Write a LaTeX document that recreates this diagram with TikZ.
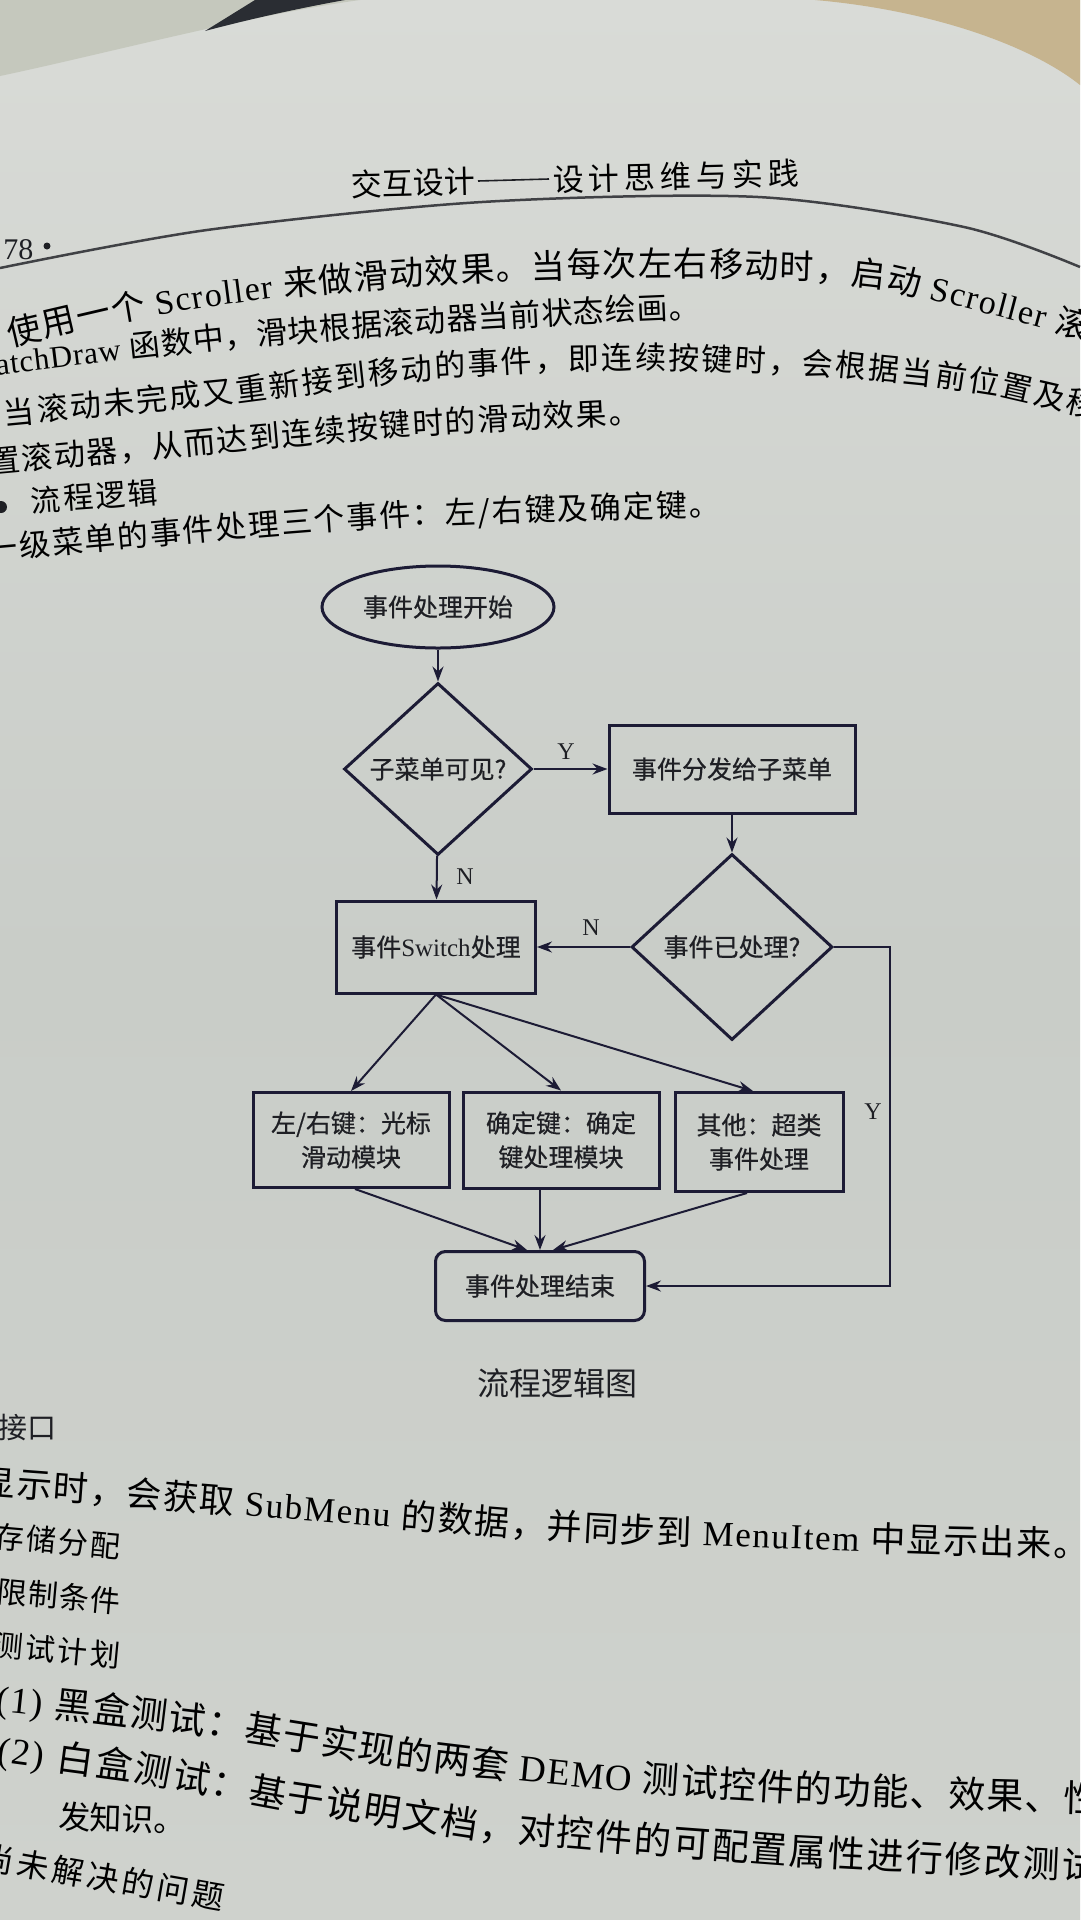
\documentclass[tikz,border=0pt]{standalone}
\usepackage{fontspec}
\setmainfont{Liberation Serif}
\newfontfamily\cjk{Noto Sans CJK SC}
\newfontfamily\cjkd[FakeBold=0.5]{Noto Sans CJK SC}
\newfontfamily\lat{Liberation Serif}
\usetikzlibrary{shapes.geometric,arrows.meta,calc,decorations.text}
\protected\def\zhf#1{\cjk\fontsize{#1}{#1}\selectfont}
\protected\def\enf#1{\lat\fontsize{#1}{#1}\selectfont}
\definecolor{ink}{HTML}{1E1F24}
\definecolor{dline}{HTML}{1C1B35}
\definecolor{pgtop}{HTML}{D9DBD7}
\definecolor{pgmid}{HTML}{C9CDC8}
\definecolor{pgbot}{HTML}{CFD2CD}
\definecolor{bgl}{HTML}{C5C8BD}
\definecolor{dark}{HTML}{2A2D33}
\definecolor{wood}{HTML}{C6B48F}
\tikzset{
  ptxt/.style={decorate,decoration={text along path,text align={fit to path},text={#1}}},
  lbl/.style={font=\cjkd\fontsize{25}{34}\selectfont, text=ink},
  bx/.style={draw=dline, line width=3pt, rectangle, inner sep=0pt, align=center, lbl},
  dmd/.style={draw=dline, line width=3pt, diamond, inner sep=0pt, lbl},
  ell/.style={draw=dline, line width=3pt, ellipse, inner sep=0pt, lbl},
  arr/.style={draw=dline, line width=2pt, -{Stealth[length=15pt,width=11pt,inset=5pt]}},
  yn/.style={font=\lat\fontsize{24}{24}\selectfont, text=ink},
}
\begin{document}
\begin{tikzpicture}[x=1pt,y=-1pt,color=ink]
\useasboundingbox (0,0) rectangle (1080,1920);
% page and surroundings
\shade[top color=pgtop, bottom color=pgbot, middle color=pgmid] (0,0) rectangle (1080,1920);
\fill[bgl] (0,0) -- (360,0) .. controls (250,15) and (100,55) .. (0,76) -- cycle;
\fill[dark] (205,31) -- (255,0) -- (345,0) .. controls (300,8) and (250,19) .. (205,31) -- cycle;
\fill[wood] (815,0) .. controls (930,10) and (1030,45) .. (1080,85) -- (1080,0) -- cycle;

% header
\path[ptxt={|\zhf{31}|交互设计}] (351,196) -- (475,193);
\draw[line width=1.6pt] (478,181) -- (549,179);
\path[ptxt={|\zhf{31}|设计思维与实践}] (553,191) -- (799,185);
\draw[line width=2.5pt, color=ink!85] plot[smooth] coordinates {(0,268) (207,230) (482,202) (758,197) (964,227) (1080,267)};
\node[anchor=east, font=\enf{30}] (pgno) at (37,250) {78};
\fill (47,246) circle (3.5);

% upper body text
\path[ptxt={|\zhf{34}|使用一个 |\enf{34}|Scroller|\zhf{34}| 来做滑动效果。当每次左右移动时，启动 |\enf{34}|Scroller|\zhf{34}| 滚动}] (10,346) -- (100,325) -- (200,308) -- (300,295) -- (400,286) -- (500,280) -- (600,277) -- (700,276) -- (800,279) -- (880,288) -- (950,304) -- (1030,325) -- (1120,350);
\path[ptxt={|\enf{31}|atchDraw |\zhf{31}|函数中，滑块根据滚动器当前状态绘画。}] (-3,375) -- (120,360) -- (230,348) -- (350,338) -- (460,330) -- (580,323) -- (700,318);
\path[ptxt={|\zhf{31}|当滚动未完成又重新接到移动的事件，即连续按键时，会根据当前位置及移}] (5,425) -- (130,413) -- (250,401) -- (350,388) -- (450,377) -- (550,371) -- (650,369) -- (750,371) -- (850,377) -- (930,385) -- (1000,396) -- (1095,418);
\path[ptxt={|\zhf{31}|置滚动器，从而达到连续按键时的滑动效果。}] (-10,473) -- (100,463) -- (200,454) -- (300,445) -- (400,436) -- (520,429) -- (640,423);
\fill (1,507) circle (6);
\path[ptxt={|\zhf{30}|流程逻辑}] (32,512) -- (158,503);
\path[ptxt={|\zhf{31}|一级菜单的事件处理三个事件：左/右键及确定键。}] (-12,560) -- (100,550) -- (200,541) -- (300,533) -- (400,526) -- (560,520) -- (720,516);

% flowchart
\node[ell, minimum width=232pt, minimum height=82pt] (st) at (438,607) {事件处理开始};
\node[dmd, minimum width=188pt, minimum height=172pt] (d1) at (438,769) {子菜单可见?};
\node[bx, minimum width=246pt, minimum height=88pt] (b1) at (732,769) {事件分发给子菜单};
\node[dmd, minimum width=201pt, minimum height=186pt] (d2) at (732,947) {事件已处理?};
\node[bx, minimum width=199pt, minimum height=92pt] (sw) at (436,947) {事件{\lat Switch}处理};
\node[bx, minimum width=196pt, minimum height=95pt] (ka) at (351,1140) {左/右键：光标\\滑动模块};
\node[bx, minimum width=196pt, minimum height=96pt] (kb) at (561,1140) {确定键：确定\\键处理模块};
\node[bx, minimum width=168pt, minimum height=99pt] (kc) at (759,1142) {其他：超类\\事件处理};
\node[bx, rounded corners=10pt, minimum width=209pt, minimum height=69pt] (en) at (540,1286) {事件处理结束};

\draw[arr] (st) -- (d1);
\draw[arr] (d1) -- (b1);
\draw[arr] (b1) -- (d2);
\draw[arr] (d1) -- (sw);
\draw[arr] (d2) -- (sw);
\coordinate (yc) at (890,947);
\draw[arr] (d2.east) -- (yc) |- (en.east);
\draw[arr] (sw.south) -- (ka.north);
\draw[arr] (sw.south) -- (kb.north);
\draw[arr] (sw.south) -- ($(kc.north)+(-6,0)$);
\draw[arr] ($(ka.south)+(4,0)$) -- ($(en.north)+(-13,0)$);
\draw[arr] (kb.south -| en.north) -- (en.north);
\draw[arr] ($(kc.south)+(-12,0)$) -- ($(en.north)+(13,0)$);

\node[yn] (ly1) at (566,752) {Y};
\node[yn] (ln1) at (465,877) {N};
\node[yn] (ln2) at (591,928) {N};
\node[yn] (ly2) at (873,1112) {Y};

\node[font=\zhf{32}] (cap) at (557,1383) {流程逻辑图};

% lower body text
\node[anchor=west, font=\zhf{29}] (jk) at (-5,1428) {接口};
\path[ptxt={|\zhf{35}|显示时，会获取 |\enf{35}|SubMenu|\zhf{35}| 的数据，并同步到 |\enf{35}|MenuItem|\zhf{35}| 中显示出来。}] (-20,1494) -- (100,1503) -- (200,1512) -- (350,1524) -- (500,1536) -- (650,1544) -- (800,1549) -- (950,1554) -- (1088,1557);
\path[ptxt={|\zhf{30}|存储分配}] (-6,1547) -- (119,1558);
\path[ptxt={|\zhf{30}|限制条件}] (-4,1602) -- (119,1613);
\path[ptxt={|\zhf{30}|测试计划}] (-8,1655) -- (119,1667);
\path[ptxt={|\enf{37}|(1) |\zhf{37}|黑盒测试：基于实现的两套 |\enf{37}|DEMO|\zhf{37}| 测试控件的功能、效果、性}] (-4,1711) -- (100,1722) -- (200,1734) -- (300,1750) -- (400,1767) -- (500,1779) -- (600,1789) -- (700,1796) -- (800,1802) -- (950,1808) -- (1100,1812);
\path[ptxt={|\enf{37}|(2) |\zhf{37}|白盒测试：基于说明文档，对控件的可配置属性进行修改测试}] (-4,1762) -- (130,1780) -- (300,1812) -- (478,1839) -- (640,1853) -- (800,1865) -- (950,1873) -- (1098,1880);
\path[ptxt={|\zhf{32}|发知识。}] (58,1828) -- (172,1832);
\path[ptxt={|\zhf{32}|尚未解决的问题}] (-20,1868) -- (222,1910);
\end{tikzpicture}
\end{document}
